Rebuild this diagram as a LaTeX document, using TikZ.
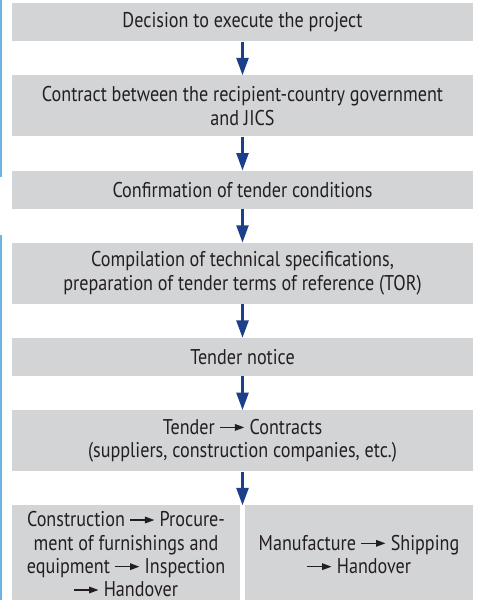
\documentclass[tikz,border=0pt]{standalone}
\usepackage{fontspec}
\setmainfont[FakeStretch=0.85]{PT Sans}
\usepackage{xcolor}
\definecolor{flowFill}{HTML}{D3D4D6}
\definecolor{flowArrow}{HTML}{1B3F8B}
\definecolor{flowText}{HTML}{231F20}
\definecolor{flowEdge}{HTML}{6CB4E4}
\usepackage{tikz}
\usetikzlibrary{arrows.meta,positioning}
\tikzset{
    stepbox/.style={
        fill=flowFill,
        rectangle,
        align=center,
        minimum width=345.75pt,
        minimum height=28.5pt,
        inner sep=0pt,
        text=flowText,
        font=\fontsize{16}{17.5}\selectfont
    },
    tallbox/.style={
        stepbox,
        minimum height=45.75pt
    },
    halfbox/.style={
        stepbox,
        minimum width=171.375pt,
        minimum height=73.5pt
    },
    arrow/.style={
        -{Triangle[length=13pt,width=9pt]},
        line width=1.8pt,
        color=flowArrow
    },
    edgeline/.style={
        line width=1.5pt,
        color=flowEdge
    }
}
\newcommand{\thento}{\tikz[baseline=-0.65ex]\draw[-{Triangle[length=7pt,width=5pt]},line width=0.8pt,flowText] (0,0) -- (18pt,0);}

\begin{document}
\begin{tikzpicture}[node distance=25.25pt]
    \useasboundingbox (0,0) rectangle (360.75pt,-450pt);

    % Side rule
    \draw[edgeline] (0.75pt,0) -- (0.75pt,-132.75pt);
    \draw[edgeline] (0.75pt,-176.25pt) -- (0.75pt,-450pt);

    % Steps
    \node[stepbox, anchor=north] (decide) at (181.875pt,-2.25pt) {Decision to execute the project};
    \node[tallbox, below=of decide] (contract) {Contract between the recipient-country government\\and JICS};
    \node[stepbox, below=of contract] (confirm) {Confirmation of tender conditions};
    \node[tallbox, below=of confirm] (specs) {Compilation of technical specifications,\\preparation of tender terms of reference (TOR)};
    \node[stepbox, below=of specs] (notice) {Tender notice};
    \node[tallbox, below=of notice] (tender) {Tender \thento\ Contracts\\(suppliers, construction companies, etc.)};

    % Two branches
    \coordinate[below=of tender.south] (fork);
    \node[halfbox, anchor=north east] (build) at ([xshift=-1.5pt]fork) {Construction \thento\ Procure-\\ment of furnishings and\\equipment \thento\ Inspection\\\thento\ Handover};
    \node[halfbox, anchor=north west] (make) at ([xshift=1.5pt]fork) {Manufacture \thento\ Shipping\\\thento\ Handover};

    % Connections
    \draw[arrow] (decide) -- (contract);
    \draw[arrow] (contract) -- (confirm);
    \draw[arrow] (confirm) -- (specs);
    \draw[arrow] (specs) -- (notice);
    \draw[arrow] (notice) -- (tender);
    \draw[arrow] (tender) -- (fork);
\end{tikzpicture}
\end{document}
